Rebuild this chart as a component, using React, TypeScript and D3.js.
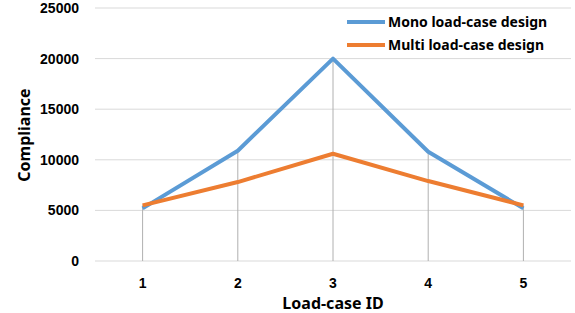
import React, { useEffect, useRef } from 'react';
import * as d3 from 'd3';

const categories = ['1', '2', '3', '4', '5'];
const monoValues = [5200, 10900, 20000, 10800, 5200];
const multiValues = [5500, 7800, 10600, 7900, 5500];
const yTicks = [0, 5000, 10000, 15000, 20000, 25000];

const App = () => {
  const ref = useRef<SVGSVGElement | null>(null);

  useEffect(() => {
    const width = 575;
    const height = 313;
    const margin = { top: 8, right: 4, bottom: 52, left: 95 };
    const font = "'Noto Sans', 'Open Sans', sans-serif";
    const tickFont = "'Liberation Sans', Arial, sans-serif";

    const svg = d3.select(ref.current);
    svg.selectAll('*').remove();

    const x = d3.scaleBand().domain(categories).range([margin.left, width - margin.right]);
    const y = d3.scaleLinear().domain([0, 25000]).range([height - margin.bottom, margin.top]);
    const cx = (c: string) => (x(c) as number) + x.bandwidth() / 2;

    // rejilla horizontal
    svg.append('g')
      .selectAll('line')
      .data(yTicks)
      .join('line')
      .attr('x1', margin.left)
      .attr('x2', width - margin.right)
      .attr('y1', (d) => y(d))
      .attr('y2', (d) => y(d))
      .attr('stroke', '#d9d9d9')
      .attr('stroke-width', 1);

    // etiquetas del eje y
    svg.append('g')
      .selectAll('text')
      .data(yTicks)
      .join('text')
      .attr('x', 79)
      .attr('y', (d) => y(d))
      .attr('dy', '0.35em')
      .attr('text-anchor', 'end')
      .style('font-family', tickFont)
      .style('font-weight', 'bold')
      .style('font-size', '14px')
      .style('fill', '#000')
      .text((d) => String(d));

    // líneas verticales (drop lines)
    svg.append('g')
      .selectAll('line')
      .data(categories)
      .join('line')
      .attr('x1', (d) => cx(d))
      .attr('x2', (d) => cx(d))
      .attr('y1', y(0))
      .attr('y2', (d, i) => y(Math.max(monoValues[i], multiValues[i])))
      .attr('stroke', '#b0b0b0')
      .attr('stroke-width', 1);

    const line = d3.line<number>()
      .x((d, i) => cx(categories[i]))
      .y((d) => y(d));

    svg.append('path')
      .datum(monoValues)
      .attr('d', line)
      .attr('fill', 'none')
      .attr('stroke', '#5b9bd5')
      .attr('stroke-width', 4)
      .attr('stroke-linejoin', 'round');

    svg.append('path')
      .datum(multiValues)
      .attr('d', line)
      .attr('fill', 'none')
      .attr('stroke', '#ed7d31')
      .attr('stroke-width', 4)
      .attr('stroke-linejoin', 'round');

    // etiquetas del eje x
    svg.append('g')
      .selectAll('text')
      .data(categories)
      .join('text')
      .attr('x', (d) => cx(d))
      .attr('y', 283)
      .attr('dy', '0.35em')
      .attr('text-anchor', 'middle')
      .style('font-family', tickFont)
      .style('font-weight', 'bold')
      .style('font-size', '14px')
      .text((d) => d);

    svg.append('text')
      .attr('x', 333)
      .attr('y', 303)
      .attr('dy', '0.35em')
      .attr('text-anchor', 'middle')
      .style('font-family', font)
      .style('font-weight', 'bold')
      .style('font-size', '16px')
      .text('Load-case ID');

    svg.append('text')
      .attr('transform', 'translate(24,135) rotate(-90)')
      .attr('dy', '0.35em')
      .attr('text-anchor', 'middle')
      .style('font-family', font)
      .style('font-weight', 'bold')
      .style('font-size', '16px')
      .text('Compliance');

    // leyenda
    const legend = [
      { label: 'Mono load-case design', color: '#5b9bd5' },
      { label: 'Multi load-case design', color: '#ed7d31' },
    ];
    const lg = svg.append('g');
    legend.forEach((l, i) => {
      const ly = 22 + i * 23;
      lg.append('line')
        .attr('x1', 347)
        .attr('x2', 385)
        .attr('y1', ly)
        .attr('y2', ly)
        .attr('stroke', l.color)
        .attr('stroke-width', 4);
      lg.append('text')
        .attr('x', 388)
        .attr('y', ly)
        .attr('dy', '0.35em')
        .style('font-family', font)
        .style('font-weight', 'bold')
        .style('font-size', '14px')
        .text(l.label);
    });
  }, []);

  return (
    <div style={{ position: 'absolute', left: 0, top: 0 }}>
      <svg ref={ref} width={575} height={313} style={{ display: 'block', background: '#fff' }} />
    </div>
  );
};

export default App;
